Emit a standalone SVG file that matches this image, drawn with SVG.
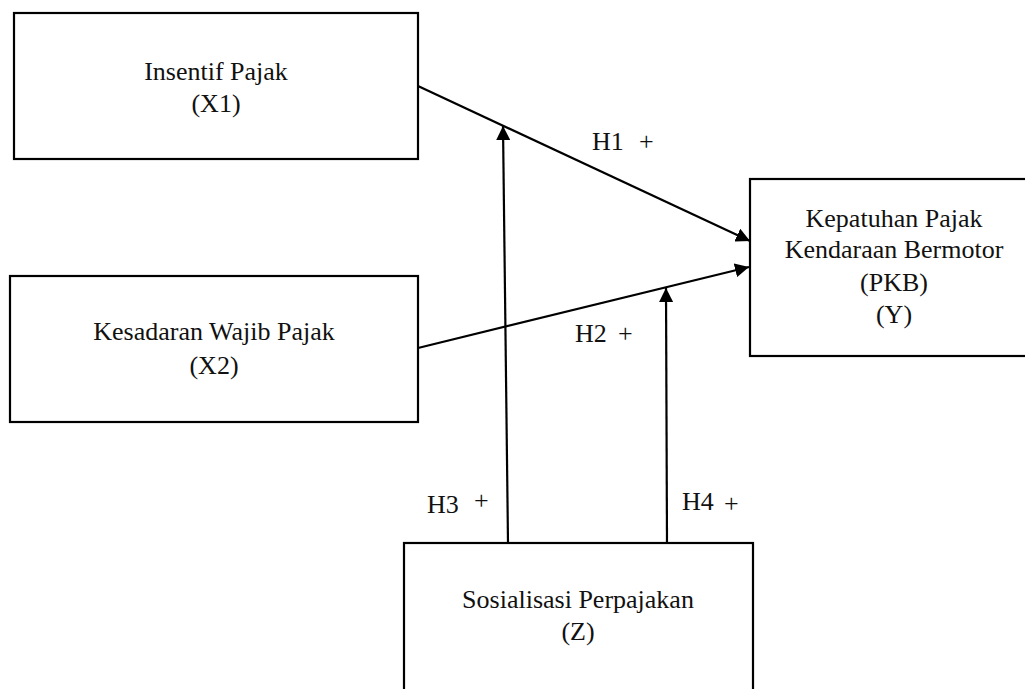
<svg xmlns="http://www.w3.org/2000/svg" width="1025" height="689" viewBox="0 0 1025 689">
<style>
.box{fill:#fff;stroke:#000;stroke-width:2.2}
.t{font-family:"Liberation Serif","Times New Roman",serif;font-size:26px;fill:#111;text-anchor:middle}
.l{font-family:"Liberation Serif","Times New Roman",serif;font-size:26px;fill:#111}
.c{stroke:#000;stroke-width:2.2;fill:none;marker-end:url(#ah)}
</style>
<defs>
<marker id="ah" markerUnits="userSpaceOnUse" markerWidth="16" markerHeight="14" refX="14" refY="7" orient="auto">
<path d="M0,0 L14,7 L0,14 Z" fill="#000"/>
</marker>
</defs>
<rect x="0" y="0" width="1025" height="689" fill="#fff"/>
<g id="x1"><rect class="box" x="14" y="13" width="404" height="146"/>
<text class="t" x="216" y="80">Insentif Pajak</text><text class="t" x="216" y="112">(X1)</text></g>
<g id="x2"><rect class="box" x="10" y="276" width="408" height="146"/>
<text class="t" x="214" y="340">Kesadaran Wajib Pajak</text><text class="t" x="214" y="374">(X2)</text></g>
<g id="y"><rect class="box" x="750" y="179" width="290" height="177"/>
<text class="t" x="894" y="227">Kepatuhan Pajak</text><text class="t" x="894" y="258">Kendaraan Bermotor</text><text class="t" x="894" y="291">(PKB)</text><text class="t" x="894" y="323">(Y)</text></g>
<g id="z"><rect class="box" x="404" y="543" width="349" height="160"/>
<text class="t" x="578" y="608">Sosialisasi Perpajakan</text><text class="t" x="578" y="640">(Z)</text></g>
<g id="connectors">
<line class="c" x1="418" y1="86" x2="750" y2="241"/>
<line class="c" x1="418" y1="348" x2="749" y2="267"/>
<line class="c" x1="508" y1="543" x2="503" y2="126"/>
<line class="c" x1="667" y1="543" x2="666" y2="288"/>
<text class="l" x="592" y="150">H1</text><text class="l" x="639" y="150">+</text>
<text class="l" x="575" y="342">H2</text><text class="l" x="618" y="342">+</text>
<text class="l" x="427" y="513">H3</text><text class="l" x="474" y="509">+</text>
<text class="l" x="682" y="510">H4</text><text class="l" x="724" y="512">+</text>
</g>
</svg>
